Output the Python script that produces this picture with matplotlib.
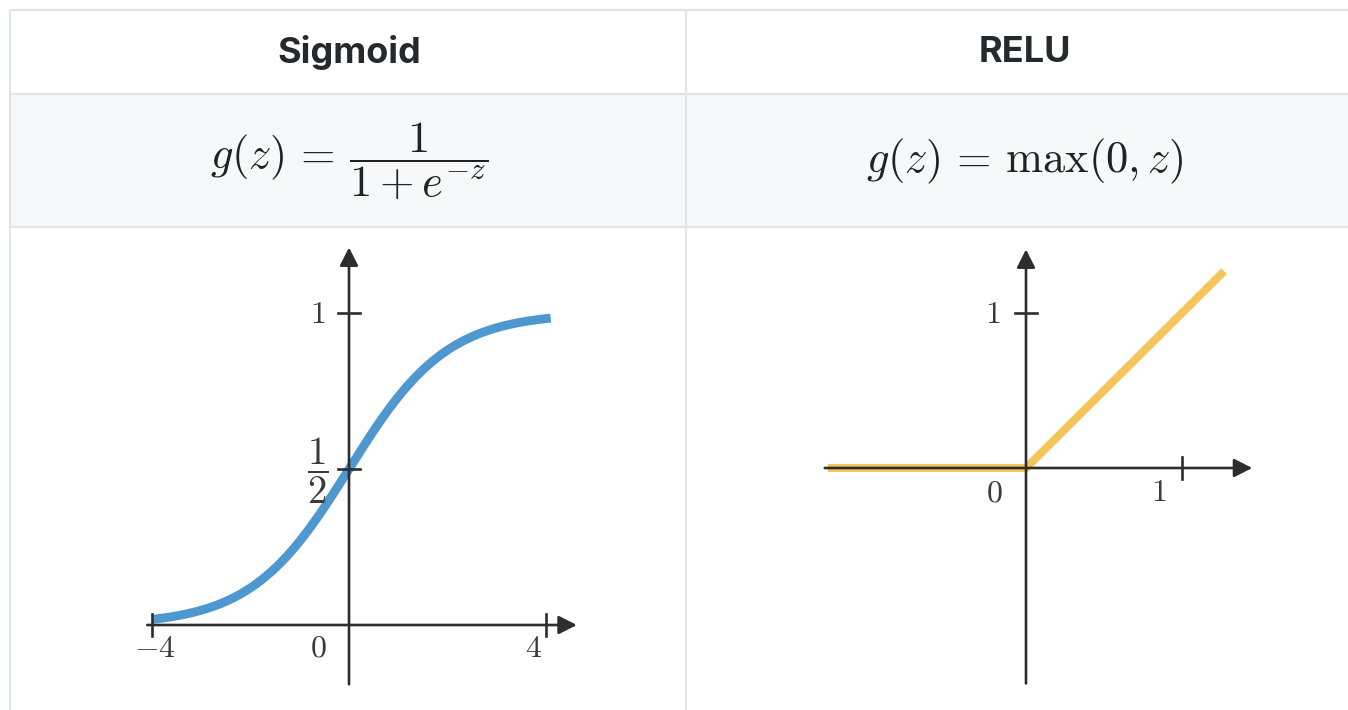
import numpy as np
import matplotlib
matplotlib.use("Agg")
import matplotlib.pyplot as plt
from matplotlib.patches import Rectangle

plt.rcParams['mathtext.fontset'] = 'cm'

W, H = 1348, 710

# table content
headers = ["Sigmoid", "RELU"]
formulas = [r"$g(z)\,=\,\dfrac{1}{1+e^{-z}}$", r"$g(z)\,=\,\max(0,z)$"]

# sigmoid panel
sig_z = np.linspace(-4.0, 4.1, 300)
sig_g = 1.0 / (1.0 + np.exp(-sig_z))
sig_xticks = [-4, 4]
sig_xlabels = [r"$-4$", r"$4$"]
sig_yticks = [0.5, 1.0]
sig_ylabels = [r"$\dfrac{1}{2}$", r"$1$"]

# relu panel
relu_z = np.array([-1.27, 0.0, 1.27])
relu_g = np.maximum(0.0, relu_z)
relu_xticks = [1]
relu_xlabels = [r"$1$"]
relu_yticks = [1]
relu_ylabels = [r"$1$"]

AX_COLOR = "#2d2d2d"
TXT_COLOR = "#3a3a3a"
GRID = "#e1e4e8"
LBL = 23


def panel_axes(fig, ox, sx, oy, sy, xlim, ylim):
    # ox/oy: pixel position of the origin, sx/sy: pixels per unit
    left = ox + sx * xlim[0]
    right = ox + sx * xlim[1]
    top = oy - sy * ylim[1]
    bottom = oy - sy * ylim[0]
    ax = fig.add_axes([left / W, 1 - bottom / H, (right - left) / W, (bottom - top) / H])
    ax.set_xlim(*xlim)
    ax.set_ylim(*ylim)
    ax.axis("off")
    return ax


def draw_axes(ax, xspan, yspan, sx, sy):
    arrow = dict(arrowstyle="-|>,head_length=0.55,head_width=0.28", color=AX_COLOR,
                 lw=1.9, shrinkA=0, shrinkB=0, mutation_scale=20)
    ax.annotate("", xy=(xspan[1], 0), xytext=(xspan[0], 0), arrowprops=arrow, zorder=3)
    ax.annotate("", xy=(0, yspan[1]), xytext=(0, yspan[0]), arrowprops=arrow, zorder=3)
    return 11.0 / sx, 11.0 / sy


fig = plt.figure(figsize=(W / 100, H / 100), dpi=100)
bg = fig.add_axes([0, 0, 1, 1])
bg.set_xlim(0, W)
bg.set_ylim(H, 0)
bg.axis("off")

# formula row background and table rules
bg.add_patch(Rectangle((10, 94), W - 10, 133, facecolor="#f6f8fa", edgecolor="none"))
for y in [10, 94, 227]:
    bg.plot([10, W], [y, y], color=GRID, lw=1.6, solid_capstyle="butt")
for x in [10, 686]:
    bg.plot([x, x], [10, H], color=GRID, lw=1.6, solid_capstyle="butt")

for cx, head, form in zip([349, 1025], headers, formulas):
    bg.text(cx, 52, head, ha="center", va="center", fontsize=26,
            fontfamily="Inter", fontweight="bold", color="#24292e")
    bg.text(cx, 161, form, ha="center", va="center", fontsize=32, color="#222222")

# sigmoid
sx, sy = 49.2, 312.0
ax1 = panel_axes(fig, 349, sx, 625, sy, (-4.6, 4.9), (-0.22, 1.27))
dx, dy = draw_axes(ax1, (-4.1, 4.63), (-0.19, 1.21), sx, sy)
ax1.plot(sig_z, sig_g, color="#3f8fcb", lw=6.4, alpha=0.92, solid_capstyle="butt", zorder=2)
xoff = [0.05, -0.24]
for t, lab, o in zip(sig_xticks, sig_xlabels, xoff):
    ax1.plot([t, t], [-dy, dy], color=AX_COLOR, lw=1.9, zorder=4)
    ax1.text(t + o, -0.075, lab, ha="center", va="center", fontsize=LBL, color=TXT_COLOR)
for t, lab, fs in zip(sig_yticks, sig_ylabels, [28, LBL]):
    ax1.plot([-dx, dx], [t, t], color=AX_COLOR, lw=1.9, zorder=4)
    ax1.text(-0.63, t - 0.005, lab, ha="center", va="center", fontsize=fs, color=TXT_COLOR)
ax1.text(-0.63, -0.075, r"$0$", ha="center", va="center", fontsize=LBL, color=TXT_COLOR)

# relu
sx, sy = 156.0, 155.0
ax2 = panel_axes(fig, 1026, sx, 468, sy, (-1.4, 1.55), (-1.45, 1.5))
dx, dy = draw_axes(ax2, (-1.29, 1.45), (-1.39, 1.41), sx, sy)
ax2.plot(relu_z, relu_g, color="#f2c04a", lw=5.8, alpha=0.9, solid_capstyle="butt",
         solid_joinstyle="miter", zorder=2)
for t, lab in zip(relu_xticks, relu_xlabels):
    ax2.plot([t, t], [-dy, dy], color=AX_COLOR, lw=1.9, zorder=4)
    ax2.text(t - 0.15, -0.16, lab, ha="center", va="center", fontsize=LBL, color=TXT_COLOR)
for t, lab in zip(relu_yticks, relu_ylabels):
    ax2.plot([-dx, dx], [t, t], color=AX_COLOR, lw=1.9, zorder=4)
    ax2.text(-0.21, t - 0.01, lab, ha="center", va="center", fontsize=LBL, color=TXT_COLOR)
ax2.text(-0.2, -0.16, r"$0$", ha="center", va="center", fontsize=LBL, color=TXT_COLOR)

fig.savefig("out.png", dpi=100, facecolor="white")
